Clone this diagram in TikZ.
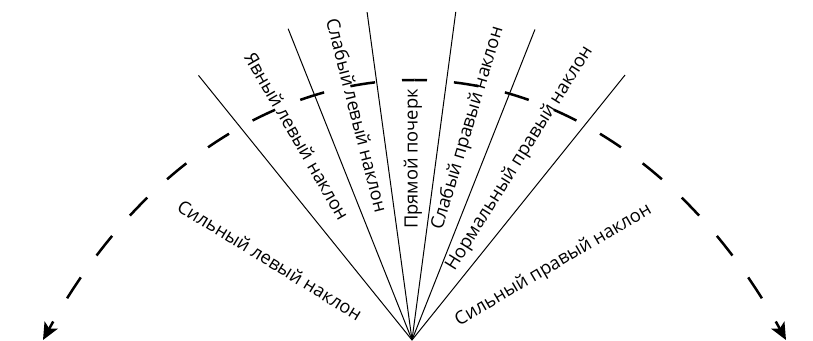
\documentclass[tikz,border=0pt]{standalone}
\usepackage{fontspec}
\setmainfont{Open Sans}
\usetikzlibrary{arrows,arrows.meta,calc}
\begin{document}
\begin{tikzpicture}[x=1pt, y=1pt, >={Stealth[length=17pt,width=15pt,inset=4pt]}]
\tikzstyle{ray}=[line width=1pt]
\tikzstyle{slant}=[font=\fontsize{18.3}{22}\selectfont, inner sep=0pt]
\tikzstyle{scale line}=[->, line width=2.5pt, dash pattern=on 25pt off 27pt, dash phase=12.5pt]
\useasboundingbox (-412,0) rectangle (401,340);
\coordinate (O) at (0,0);
\coordinate (A) at (128.9:340);
\coordinate (B) at (111.7:335);
\coordinate (C) at (97.8:331);
\coordinate (D) at (82.4:331);
\coordinate (E) at (68.4:334);
\coordinate (F) at (51.2:340);
\foreach \p in {A,B,C,D,E,F}
  \draw[ray] (O) -- (\p);
\coordinate (T) at (2.5,260);
\coordinate (L0) at (-369,0);
\coordinate (R0) at (374,0);
\draw[scale line] (T) .. controls (-135.5,260) and (-273.5,173.5) .. (L0);
\draw[scale line] (T) .. controls (140.5,260) and (278.5,173.5) .. (R0);
\node[slant, rotate=-31.5] (G) at (150.6:163)  {Сильный левый наклон};
\node[slant, rotate=-60]   (H) at (119.4:234)  {Явный левый наклон};
\node[slant, rotate=-75.7] (I) at (103.7:231)  {Слабый левый наклон};
\node[slant, rotate=90]    (J) at (89.7:181)   {Прямой почерк};
\node[slant, rotate=73.3]  (K) at (75.2:219)   {Слабый правый наклон};
\node[slant, rotate=58]    (N) at (59.3:211)   {Нормальный правый наклон};
\node[slant, rotate=30.4]  (M) at (27.8:160)   {Сильный правый наклон};
\end{tikzpicture}
\end{document}
